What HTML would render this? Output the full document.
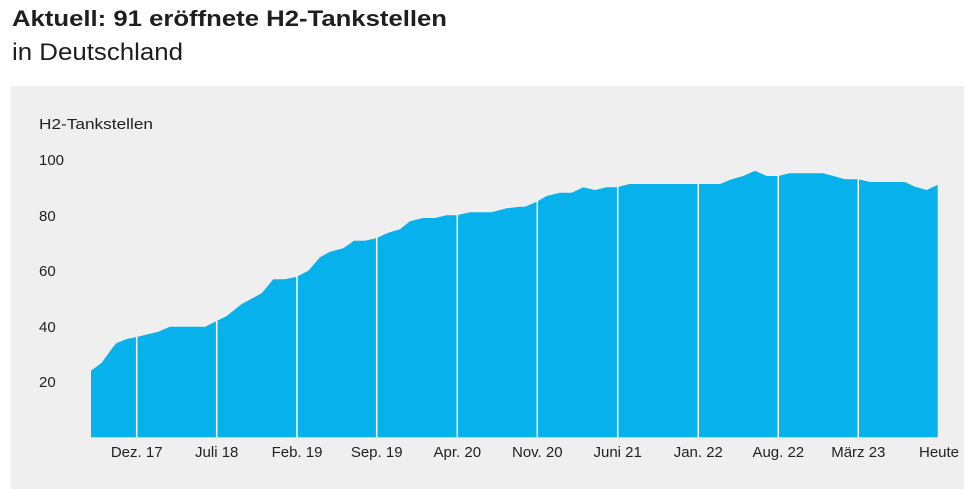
<!DOCTYPE html>
<html><head><meta charset="utf-8"><style>
html,body{margin:0;padding:0;background:#fff;}
svg{display:block;font-family:"Liberation Sans",sans-serif;}
</style></head><body>
<svg width="964" height="489" viewBox="0 0 964 489" xmlns="http://www.w3.org/2000/svg">
<defs>
<clipPath id="ac"><path id="ap" d="M91,437.3 L91,370.7 L101.7,362.7 L113.3,346.7 L116.7,343 L126.7,339 L136.7,337 L158.3,331.7 L170,326.7 L205,326.7 L216.7,321 L226.7,316 L241.7,304 L261.7,293.3 L273.3,279.3 L285,279.3 L296.7,276.7 L308.3,270.7 L320,257.3 L330,251.7 L343.3,248.3 L354,240.7 L365,240.7 L376.7,238 L388.3,232.7 L400,229.3 L410,221.3 L423.3,218 L435,218 L446.7,215.3 L456.7,215.3 L470,212.3 L491.7,212.3 L506.7,208.3 L520,206.7 L525,206.7 L536.7,201.7 L546.7,196 L560,192.7 L571.7,192.7 L583.3,187.3 L595,190 L606.7,187.3 L617.3,187.3 L629.3,184 L720,184 L731.7,179.3 L743.3,176 L755,170.7 L766.7,176 L778.3,176 L789.3,173.3 L823.3,173.3 L845,179.3 L858.3,179.3 L870,182 L905,182 L915,186.7 L926.7,190 L937.7,184.7 L937.7,437.3 Z"/></clipPath>
</defs>
<rect x="0" y="0" width="964" height="489" fill="#fff"/>
<text x="12" y="26" font-size="22" font-weight="bold" fill="#1e1e1e" textLength="435" lengthAdjust="spacingAndGlyphs">Aktuell: 91 eröffnete H2-Tankstellen</text>
<text x="12" y="60" font-size="24" fill="#1e1e1e" textLength="171" lengthAdjust="spacingAndGlyphs">in Deutschland</text>
<rect x="11" y="86" width="953" height="403" fill="#efefef"/>
<text x="39" y="129" font-size="15" fill="#222" textLength="114" lengthAdjust="spacingAndGlyphs">H2-Tankstellen</text>
<g font-size="15" fill="#222">
<text x="39" y="165">100</text>
<text x="39" y="221">80</text>
<text x="39" y="276">60</text>
<text x="39" y="332">40</text>
<text x="39" y="387">20</text>
</g>
<use href="#ap" fill="#07b1ec"/>
<g stroke="#fff" stroke-width="1.5" clip-path="url(#ac)">
<line x1="136.7" y1="160" x2="136.7" y2="437.3"/>
<line x1="216.7" y1="160" x2="216.7" y2="437.3"/>
<line x1="297" y1="160" x2="297" y2="437.3"/>
<line x1="376.7" y1="160" x2="376.7" y2="437.3"/>
<line x1="457.3" y1="160" x2="457.3" y2="437.3"/>
<line x1="537.3" y1="160" x2="537.3" y2="437.3"/>
<line x1="617.7" y1="160" x2="617.7" y2="437.3"/>
<line x1="698.3" y1="160" x2="698.3" y2="437.3"/>
<line x1="778.3" y1="160" x2="778.3" y2="437.3"/>
<line x1="858.3" y1="160" x2="858.3" y2="437.3"/>
</g>
<g font-size="15" fill="#222" text-anchor="middle">
<text x="136.7" y="457">Dez. 17</text>
<text x="216.7" y="457">Juli 18</text>
<text x="297" y="457">Feb. 19</text>
<text x="376.7" y="457">Sep. 19</text>
<text x="457.3" y="457">Apr. 20</text>
<text x="537.3" y="457">Nov. 20</text>
<text x="617.7" y="457">Juni 21</text>
<text x="698.3" y="457">Jan. 22</text>
<text x="778.3" y="457">Aug. 22</text>
<text x="858.3" y="457">März 23</text>
<text x="939" y="457">Heute</text>
</g>
</svg>
</body></html>
